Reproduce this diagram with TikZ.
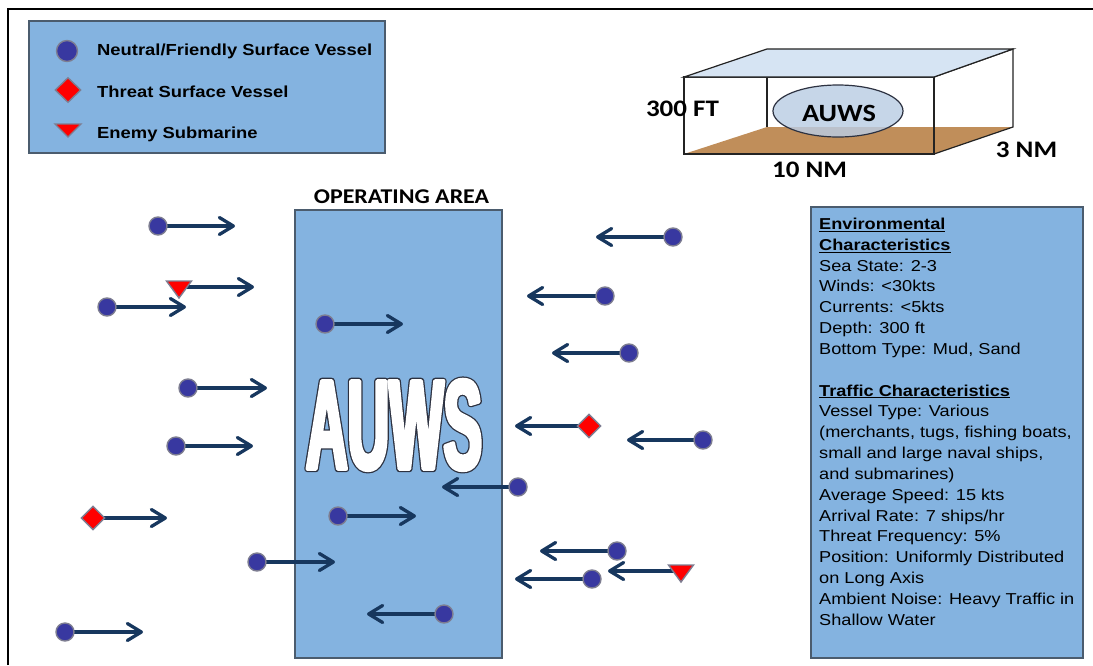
\documentclass[tikz,border=0pt]{standalone}
\usepackage{fontspec}
\usetikzlibrary{arrows.meta,shapes.geometric}
\newfontfamily\arialx{Liberation Sans}[FakeStretch=1.15]
\newfontfamily\calx{Carlito}[FakeStretch=1.14]
\newfontfamily\auwsdark{Liberation Sans Bold}[FakeStretch=0.45, FakeBold=5]
\newfontfamily\auwswhite{Liberation Sans Bold}[FakeStretch=0.45, FakeBold=3]
\definecolor{panelblue}{RGB}{132,179,224}
\definecolor{paneledge}{RGB}{75,92,110}
\definecolor{navy}{RGB}{23,55,94}
\definecolor{vesselfill}{RGB}{56,56,160}
\definecolor{markedge}{RGB}{125,125,145}
\definecolor{threatred}{RGB}{255,0,0}
\definecolor{topface}{RGB}{214,228,243}
\definecolor{sand}{RGB}{192,142,90}
\definecolor{ellfill}{RGB}{186,205,228}
\definecolor{boxedge}{RGB}{35,35,35}
\definecolor{outl}{RGB}{45,50,65}
\tikzset{
 panel/.style={fill=panelblue, draw=paneledge, line width=1.2pt},
 arr/.style={draw=navy, line width=3.3pt, line cap=round, -{Straight Barb[length=14pt,width=17pt,round]}},
 vessel/.style={circle, fill=vesselfill, draw=markedge, line width=1.4pt, minimum size=18pt, inner sep=0pt},
 threat/.style={diamond, fill=threatred, draw=markedge, line width=1.4pt, minimum width=24pt, minimum height=24pt, inner sep=0pt},
 subm/.style={fill=threatred, draw=markedge, line width=1.4pt, line join=miter},
 lab/.style={font=\arialx\bfseries\fontsize{16}{19}\selectfont, anchor=base west, inner sep=0pt},
 boxlab/.style={font=\calx\bfseries\fontsize{23.7}{26}\selectfont, anchor=base, inner sep=0pt},
 edgeline/.style={draw=boxedge, line width=1.2pt},
 bigtxt/.style={anchor=base, inner sep=0pt},
}
\begin{document}
\begin{tikzpicture}[x=1pt,y=-1pt]
\useasboundingbox (0,0) rectangle (1093,665);
\fill[white] (0,0) rectangle (1093,665);
% outer frame
\draw[line width=1.3pt, black] (8,665) -- (8,9) -- (1093,9);
% legend
\draw[panel] (29,21) rectangle (385,153);
\node[vessel, minimum size=21pt] (lc) at (67,51) {};
\node[threat, minimum width=26pt, minimum height=25pt] (ld) at (68,90) {};
\coordinate (lt) at (68,124);
\path[subm] (lt) ++(-13,0) -- ++(26,0) -- ++(-13,13) -- cycle;
\node[lab] (l1) at (97,55) {Neutral/Friendly Surface Vessel};
\node[lab] (l2) at (97,97) {Threat Surface Vessel};
\node[lab] (l3) at (97,138) {Enemy Submarine};
% 3D box
\fill[sand] (684,154) -- (934,154) -- (1013,127) -- (767,127) -- cycle;
\draw[edgeline] (767,77) -- (767,127);
\node[ellipse, fill=ellfill, fill opacity=0.82, draw=outl, line width=1.2pt, minimum width=130pt, minimum height=52pt, inner sep=0pt] (ell) at (838,111) {};
\node[boxlab, font=\calx\bfseries\fontsize{24.8}{27}\selectfont] (ellab) at (839,121) {AUWS};
\draw[edgeline] (684,77) rectangle (934,154);
\draw[edgeline] (934,77) -- (1013,49) -- (1013,127) -- (934,154);
\filldraw[fill=topface, edgeline] (684,77) -- (767,49) -- (1013,49) -- (934,77) -- cycle;
\node[boxlab] (ft) at (682.5,116) {300 FT};
\node[boxlab] (nm10) at (809.5,177) {10 NM};
\node[boxlab] (nm3) at (1026.5,157) {3 NM};
% operating area
\node[font=\calx\bfseries\fontsize{21}{24}\selectfont, anchor=base, inner sep=0pt] (oplab) at (401.5,203) {OPERATING AREA};
\draw[panel] (295,210) rectangle (502,658);
\node[bigtxt, text=outl, font=\auwsdark\fontsize{128}{130}\selectfont] (bigback) at (394,469) {\pgfsetroundjoin AUWS};
\node[bigtxt, text=white, font=\auwswhite\fontsize{128}{130}\selectfont] (big) at (394,469) {\pgfsetroundjoin AUWS};
% environment panel
\draw[panel] (811,207) rectangle (1083,658);
\node[font=\arialx\fontsize{15.8}{20.84}\selectfont, align=left, anchor=north west, inner sep=0pt] (env) at (819,217.7) {%
\textbf{\underline{Environmental}}\\
\textbf{\underline{Characteristics}}\\
Sea State: 2-3\\
Winds: <30kts\\
Currents: <5kts\\
Depth: 300 ft\\
Bottom Type: Mud, Sand\\[20.84pt]
\textbf{\underline{Traffic Characteristics}}\\
Vessel Type: Various\\
(merchants, tugs, fishing boats,\\
small and large naval ships,\\
and submarines)\\
Average Speed: 15 kts\\
Arrival Rate: 7 ships/hr\\
Threat Frequency: 5\%\\
Position: Uniformly Distributed\\
on Long Axis\\
Ambient Noise: Heavy Traffic in\\
Shallow Water};
% vessels: circles
\foreach \n/\x/\y/\t in {v1/158/226/235, v2/107/307/186, v3/188/388/267, v4/176/446/253,
  v5/257/562/335, v6/65/632/143, v7/325/324/403, v8/338/516/416, v9/444/614/367,
  v10/518/487/442, v11/673/237/596, v12/605/296/527, v13/629/353/552, v14/703/440/627,
  v15/617/551/540, v16/592/579/515}{
  \coordinate (\n) at (\x,\y);
  \coordinate (\n t) at (\t,\y);
  \draw[arr] (\n) -- (\n t);
  \node[vessel] (\n m) at (\n) {};
}
% threat surface vessels
\foreach \n/\x/\y/\t in {d1/93/518/167, d2/589/426/515}{
  \coordinate (\n) at (\x,\y);
  \coordinate (\n t) at (\t,\y);
  \draw[arr] (\n) -- (\n t);
  \node[threat] (\n m) at (\n) {};
}
% submarines
\foreach \n/\x/\y/\t in {s1/179/287/254, s2/681/571/608}{
  \coordinate (\n) at (\x,\y);
  \coordinate (\n t) at (\t,\y);
  \draw[arr] (\n) -- (\n t);
  \path[subm] (\n) ++(-12.5,-6) -- ++(25,0) -- ++(-12.5,17) -- cycle;
}
\end{tikzpicture}
\end{document}
